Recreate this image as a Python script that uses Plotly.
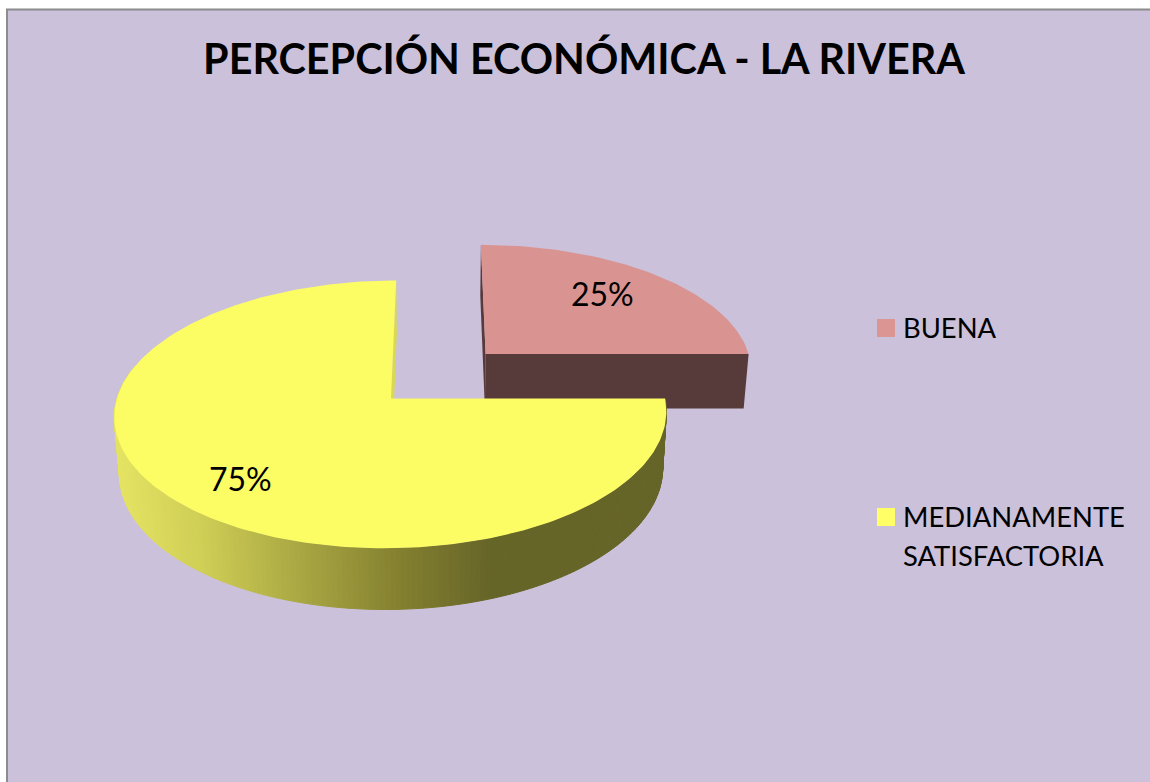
"""
plot.py
Exploded 3D-look pie (Excel style) drawn with filled scatter traces.
"""

import numpy as np
import plotly.graph_objects as go

# ---------------------------------------------------------------------------
# DATA
# ---------------------------------------------------------------------------
TITLE = "PERCEPCIÓN ECONÓMICA - LA RIVERA"
categories = ["BUENA", "MEDIANAMENTE<br>SATISFACTORIA"]
values = [25, 75]

# ---------------------------------------------------------------------------
# STYLE / GEOMETRY (pixels of the 1150x782 page)
# ---------------------------------------------------------------------------
W, H = 1150, 782
FONT = "Lato"
BG = "#CBC1DB"
TOP_COLORS = ["#D99492", "#FCFC65"]
KEY_COLORS = ["#DB9694", "#FFFF66"]
PINK_SIDE = "#573B3B"
YELLOW_CUT = "#D9D950"
# side shading of the big slice, by screen x
SHADE_X = [119, 200, 300, 395, 490, 670]
SHADE_R = [228, 207, 168, 133, 102, 102]
SHADE_G = [227, 206, 167, 129, 101, 101]
SHADE_B = [98, 86, 66, 48, 40, 40]

CX, CY = 391.0, 398.5     # apex of the big slice
RX, RY = 274.0, 132.0     # radii of the top face
PERSP = 0.119             # front looks bigger than back
VANISH_X = 440.0
DEPTH = 56.0              # pie thickness
SHRINK = 0.016            # lower face is a little smaller
EXPLODE = (96.5, -0.351)  # offset of the pulled out slice

LABEL_POS = [(602, 293), (240, 478)]
KEY_X, KEY_TEXT_X = 886, 901
KEY_Y = [328, 517]
KEY_TEXT_DY = -1
KEY_LINE = 39


def project(angle, radius=1.0, z=0.0, offset=(0.0, 0.0)):
    """angle in degrees clockwise from 12 o'clock, z=0 top face, z=1 lower face."""
    a = np.radians(angle)
    u = radius * np.sin(a)
    v = radius * -np.cos(a) + offset[1]
    s = 1 - SHRINK * z
    d = 1 - PERSP * v
    x = VANISH_X + (CX + offset[0] + RX * u - VANISH_X) * s / d
    y = CY + (RY * v * s + DEPTH * z) / d
    return x, y


def poly_trace(x, y, color, line_width=0):
    return go.Scatter(
        x=np.append(x, x[0]), y=np.append(y, y[0]),
        mode="lines", fill="toself", fillcolor=color,
        line=dict(color=color, width=line_width),
        hoverinfo="skip", showlegend=False,
    )


def shade(x):
    r = np.interp(x, SHADE_X, SHADE_R)
    g = np.interp(x, SHADE_X, SHADE_G)
    b = np.interp(x, SHADE_X, SHADE_B)
    return f"rgb({r:.0f},{g:.0f},{b:.0f})"


# slice angles come from the values, first slice starts at 12 o'clock
total = sum(values)
edges = np.cumsum([0] + values) / total * 360
pink_a0, pink_a1 = edges[0], edges[1]
yell_a0, yell_a1 = edges[1], edges[2]

fig = go.Figure()

# --- pulled out slice: faces, then top
ang = np.linspace(pink_a0, pink_a1, 60)
ax0, ay0 = project(0, 0, 0, EXPLODE)
ax1, ay1 = project(0, 0, 1, EXPLODE)
for a in (pink_a0, pink_a1):
    rx0, ry0 = project(a, 1, 0, EXPLODE)
    rx1, ry1 = project(a, 1, 1, EXPLODE)
    fig.add_trace(poly_trace(np.array([ax0, rx0, rx1, ax1]), np.array([ay0, ry0, ry1, ay1]), PINK_SIDE))
tx, ty = project(ang, 1, 0, EXPLODE)
fig.add_trace(poly_trace(np.r_[ax0, tx], np.r_[ay0, ty], TOP_COLORS[0]))

# --- big slice: cut face at the back
bx0, by0 = project(0, 0, 0)
bx1, by1 = project(0, 0, 1)
rx0, ry0 = project(yell_a1, 1, 0)
rx1, ry1 = project(yell_a1, 1, 1)
fig.add_trace(poly_trace(np.array([bx0, rx0, rx1, bx1]), np.array([by0, ry0, ry1, by1]), YELLOW_CUT))

# --- big slice: rim, split in narrow bands for the shading
band_edges = np.arange(yell_a0, 285.1, 1.0)
for a0, a1 in zip(band_edges[:-1], band_edges[1:]):
    seg = np.linspace(a0, a1, 3)
    ux, uy = project(seg, 1, 0)
    lx, ly = project(seg[::-1], 1, 1)
    fig.add_trace(poly_trace(np.r_[ux, lx], np.r_[uy, ly], shade(ux.mean()), line_width=1))

# --- big slice: top face
ang = np.linspace(yell_a0, yell_a1, 240)
tx, ty = project(ang, 1, 0)
fig.add_trace(poly_trace(np.r_[bx0, tx], np.r_[by0, ty], TOP_COLORS[1]))

# --- key: squares as markers, text line by line
fig.add_trace(go.Scatter(
    x=[KEY_X] * len(categories), y=KEY_Y, mode="markers", hoverinfo="skip", showlegend=False,
    marker=dict(symbol="square", size=18, color=KEY_COLORS),
))
for name, y in zip(categories, KEY_Y):
    for i, line in enumerate(name.split("<br>")):
        fig.add_annotation(x=KEY_TEXT_X, y=y + KEY_TEXT_DY + i * KEY_LINE, text=line, showarrow=False,
                           xanchor="left", font=dict(family=FONT, size=27.4, color="black"))

# --- percent labels
for val, (lx, ly) in zip(values, LABEL_POS):
    fig.add_annotation(x=lx, y=ly, text=f"{val}%", showarrow=False,
                       font=dict(family=FONT, size=32, color="black"))

fig.update_layout(
    width=W, height=H,
    margin=dict(l=0, r=0, t=0, b=0),
    paper_bgcolor="white",
    plot_bgcolor="white",
    showlegend=False,
    xaxis=dict(range=[0, W], visible=False, fixedrange=True),
    yaxis=dict(range=[H, 0], visible=False, fixedrange=True),
    title=dict(text=f"<b>{TITLE}</b>", x=584 / W, xanchor="center", y=1 - 60 / H, yanchor="middle",
               font=dict(family=FONT, size=41.3, color="black")),
    shapes=[dict(type="rect", layer="below", x0=7, y0=9.5, x1=W + 20, y1=H + 20,
                 fillcolor=BG, line=dict(color="#8C8C8C", width=2))],
)

fig.write_html("out.html", config=dict(displayModeBar=False),
               post_script="document.body.style.margin='0';")
